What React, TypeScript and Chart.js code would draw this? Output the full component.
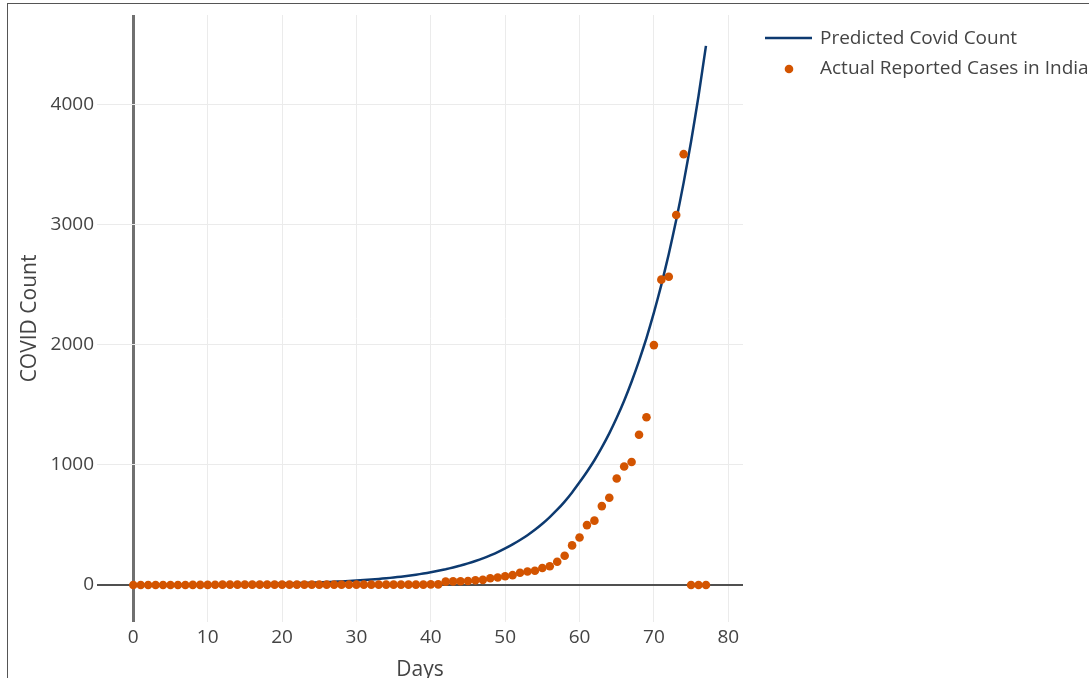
import React, { useEffect, useRef } from "react";
import { Chart, registerables } from "chart.js";

Chart.register(...registerables);

// ---- data ----
const DAYS = [
  0, 1, 2, 3, 4, 5, 6, 7, 8, 9, 10, 11, 12, 13, 14, 15, 16, 17, 18, 19,
  20, 21, 22, 23, 24, 25, 26, 27, 28, 29, 30, 31, 32, 33, 34, 35, 36, 37, 38, 39,
  40, 41, 42, 43, 44, 45, 46, 47, 48, 49, 50, 51, 52, 53, 54, 55, 56, 57, 58, 59,
  60, 61, 62, 63, 64, 65, 66, 67, 68, 69, 70, 71, 72, 73, 74, 75, 76, 77,
];

const ACTUAL_CASES = [
  0, 0, 0, 0, 0, 0, 0, 0, 1, 1, 1, 2, 3, 3, 3, 3, 3, 3, 3, 3,
  3, 3, 3, 3, 3, 3, 3, 3, 3, 3, 3, 3, 3, 3, 3, 3, 3, 3, 3, 3,
  5, 5, 28, 30, 31, 34, 39, 43, 56, 62, 73, 82, 102, 113, 119, 142, 156, 194, 244, 330,
  396, 499, 536, 657, 727, 887, 987, 1024, 1251, 1397, 1998, 2543, 2567, 3082, 3588, 0, 0, 0,
];

const PREDICTED_COUNT = [
  1.6, 1.8, 2.0, 2.2, 2.4, 2.7, 3.0, 3.3, 3.7, 4.1, 4.6, 5.1, 5.6, 6.2, 6.9, 7.7, 8.5, 9.5, 10.5, 11.7,
  13.0, 14.4, 16.0, 17.8, 19.7, 21.9, 24.3, 27.0, 30.0, 33.3, 37, 41.1, 45.7, 50.8, 56.4, 62.7, 69.7, 77.4, 86, 95.6,
  106, 118, 131, 146, 162, 180, 200, 222, 247, 274, 305, 338, 375, 415, 460, 510, 566, 627, 695, 771,
  855, 943, 1039, 1146, 1263, 1393, 1535, 1693, 1866, 2057, 2268, 2500, 2757, 3039, 3351, 3694, 4073, 4490,
];

const X_TICKS = [0, 10, 20, 30, 40, 50, 60, 70, 80];
const Y_TICKS = [0, 1000, 2000, 3000, 4000];

const SERIES_NAMES = ["Predicted Covid Count", "Actual Reported Cases in India"];
const X_TITLE = "Days";
const Y_TITLE = "COVID Count";

const NAVY = "#0d3a70";
const ORANGE = "#d35400";
const TEXT = "#444444";
const FONT = "'Open Sans', 'DejaVu Sans', sans-serif";

const legendPlugin = {
  id: "plotlyLegend",
  afterDraw(chart: any) {
    const { ctx, chartArea } = chart;
    const x0 = chartArea.right + 22;
    ctx.save();
    ctx.font = `19px ${FONT}`;
    ctx.textBaseline = "middle";
    ctx.textAlign = "left";
    // entry 1: line
    ctx.strokeStyle = NAVY;
    ctx.lineWidth = 2.5;
    ctx.beginPath();
    ctx.moveTo(x0, 38);
    ctx.lineTo(x0 + 47, 38);
    ctx.stroke();
    ctx.fillStyle = TEXT;
    ctx.fillText(SERIES_NAMES[0], x0 + 55, 39);
    // entry 2: marker
    ctx.fillStyle = ORANGE;
    ctx.beginPath();
    ctx.arc(x0 + 24, 69, 4.3, 0, Math.PI * 2);
    ctx.fill();
    ctx.fillStyle = TEXT;
    ctx.fillText(SERIES_NAMES[1], x0 + 55, 69);
    ctx.restore();
  },
};

export default function App() {
  const ref = useRef<HTMLCanvasElement | null>(null);

  useEffect(() => {
    if (!ref.current) return;
    const actualPts = DAYS.map((d, i) => ({ x: d, y: ACTUAL_CASES[i] }));
    const predPts = DAYS.map((d, i) => ({ x: d, y: PREDICTED_COUNT[i] }));

    const chart = new Chart(ref.current, {
      type: "scatter",
      data: {
        datasets: [
          {
            label: SERIES_NAMES[1],
            data: actualPts,
            showLine: false,
            pointRadius: 4.3,
            pointHoverRadius: 4.3,
            pointBackgroundColor: ORANGE,
            pointBorderWidth: 0,
            borderColor: ORANGE,
          },
          {
            label: SERIES_NAMES[0],
            data: predPts,
            showLine: true,
            pointRadius: 0,
            borderColor: NAVY,
            borderWidth: 2.5,
            tension: 0.2,
            fill: false,
          },
        ],
      },
      options: {
        responsive: false,
        animation: false,
        devicePixelRatio: 1,
        layout: { padding: { left: 0, top: 15, right: 346, bottom: 0 } },
        plugins: {
          legend: { display: false },
          tooltip: { enabled: false },
        },
        scales: {
          x: {
            type: "linear",
            min: -4.88,
            max: 81.98,
            afterFit: (s: any) => {
              s.height = 56;
            },
            afterBuildTicks: (s: any) => {
              s.ticks = X_TICKS.map((v) => ({ value: v }));
            },
            ticks: {
              autoSkip: false,
              padding: 4,
              maxRotation: 0,
              color: TEXT,
              font: { family: FONT, size: 19 },
              callback: (v: any) => String(v),
            },
            grid: {
              drawTicks: false,
              color: (c: any) => (c.tick && c.tick.value === 0 ? "#707070" : "#ebebeb"),
              lineWidth: (c: any) => (c.tick && c.tick.value === 0 ? 3 : 1),
            },
            border: { display: false },
            title: {
              display: true,
              text: X_TITLE,
              color: TEXT,
              font: { family: FONT, size: 21, lineHeight: 0.76 },
              padding: 0,
            },
          },
          y: {
            type: "linear",
            min: -308,
            max: 4747,
            afterFit: (s: any) => {
              s.width = 97;
            },
            afterBuildTicks: (s: any) => {
              s.ticks = Y_TICKS.map((v) => ({ value: v }));
            },
            ticks: {
              autoSkip: false,
              padding: 3,
              color: TEXT,
              font: { family: FONT, size: 19 },
              callback: (v: any) => String(v),
            },
            grid: {
              drawTicks: false,
              color: (c: any) => (c.tick && c.tick.value === 0 ? "#505050" : "#ebebeb"),
              lineWidth: (c: any) => (c.tick && c.tick.value === 0 ? 2 : 1),
            },
            border: { display: false },
            title: {
              display: true,
              text: Y_TITLE,
              color: TEXT,
              font: { family: FONT, size: 21, lineHeight: 1.2 },
              padding: { top: 17.4, bottom: 0 },
            },
          },
        },
      },
      plugins: [legendPlugin],
    });
    return () => chart.destroy();
  }, []);

  return (
    <div
      style={{
        position: "fixed",
        left: 0,
        top: 0,
        width: 1089,
        height: 678,
        overflow: "hidden",
        background: "#ffffff",
      }}
    >
      <canvas ref={ref} width={1089} height={678} style={{ display: "block", width: 1089, height: 678 }} />
      <div
        style={{
          position: "absolute",
          left: 7,
          top: 3,
          width: 1100,
          height: 700,
          borderLeft: "1px solid #555",
          borderTop: "1px solid #555",
          pointerEvents: "none",
        }}
      />
    </div>
  );
}
